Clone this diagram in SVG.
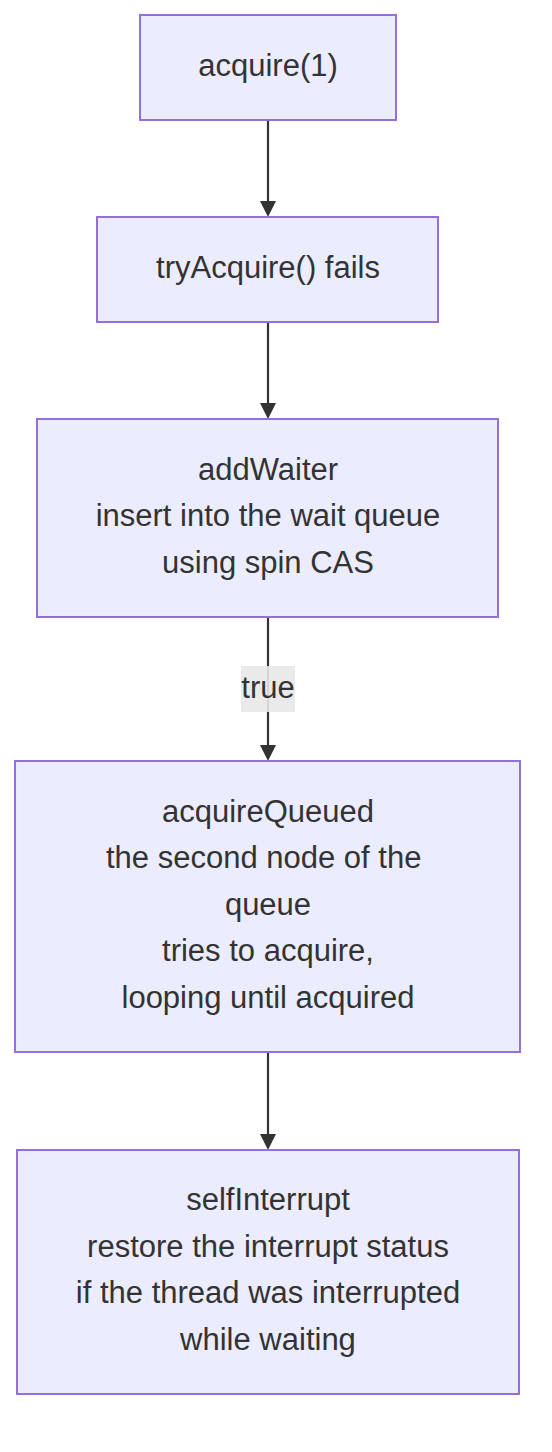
<svg xmlns="http://www.w3.org/2000/svg" width="552" height="1452" viewBox="0 0 552 1452">
<style>
.node rect{fill:#ECECFF;stroke:#9370DB;stroke-width:2}
.node text,.lbl text{font-family:"Liberation Sans",Arial,sans-serif;font-size:31px;fill:#333;text-anchor:middle}
.edge{stroke:#333;stroke-width:2.2;fill:none}
.lbl rect{fill:#e8e8e8;fill-opacity:0.9}
</style>
<defs>
<marker id="arrow" markerUnits="userSpaceOnUse" viewBox="0 0 10 10" markerWidth="16" markerHeight="16" preserveAspectRatio="none" refX="7.5" refY="5" orient="auto">
<path d="M0,0 L10,5 L0,10 z" fill="#333"/>
</marker>
</defs>
<rect width="552" height="1452" fill="#fff"/>
<g id="connectors">
<path class="edge" d="M268,120 L268,213" marker-end="url(#arrow)"/>
<path class="edge" d="M268,322 L268,415" marker-end="url(#arrow)"/>
<path class="edge" d="M268,617 L268,757" marker-end="url(#arrow)"/>
<path class="edge" d="M268,1052 L268,1146" marker-end="url(#arrow)"/>
<g class="lbl" id="label-true">
<rect x="241" y="666" width="54" height="46"/>
<text x="268" y="697.5">true</text>
</g>
</g>
<g class="node" id="n1">
<rect x="140" y="15" width="256" height="105"/>
<text x="268" y="75.5">acquire(1)</text>
</g>
<g class="node" id="n2">
<rect x="97" y="217" width="341" height="105"/>
<text x="268" y="277.5">tryAcquire() fails</text>
</g>
<g class="node" id="n3">
<rect x="37" y="419" width="461" height="198"/>
<text x="268" y="479.5">addWaiter</text>
<text x="268" y="526">insert into the wait queue</text>
<text x="268" y="572.5">using spin CAS</text>
</g>
<g class="node" id="n4">
<rect x="15" y="761" width="505" height="291"/>
<text x="268" y="821.5">acquireQueued</text>
<text x="263.7" y="868">the second node of the</text>
<text x="268" y="914.5">queue</text>
<text x="268" y="961">tries to acquire,</text>
<text x="268" y="1007.5">looping until acquired</text>
</g>
<g class="node" id="n5">
<rect x="17" y="1150" width="502" height="244"/>
<text x="268" y="1210">selfInterrupt</text>
<text x="268" y="1256.5">restore the interrupt status</text>
<text x="268" y="1303">if the thread was interrupted</text>
<text x="268" y="1349.5">while waiting</text>
</g>
</svg>
